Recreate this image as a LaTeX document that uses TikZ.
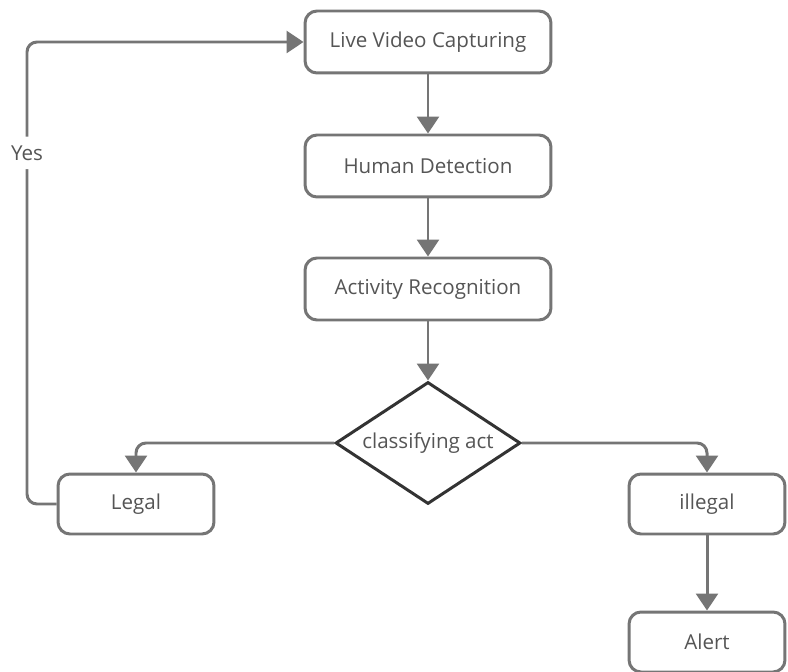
\documentclass[tikz,border=0pt]{standalone}
\usepackage{fontspec}
\setmainfont{Open Sans}
\usetikzlibrary{arrows.meta,shapes.geometric}
\definecolor{LineClr}{HTML}{757575}
\definecolor{DiamClr}{HTML}{333333}
\definecolor{TextClr}{HTML}{555555}

\begin{document}
\begin{tikzpicture}[x=0.02cm,y=-0.02cm,
  box/.style={draw=LineClr,line width=1.7pt,rounded corners=0.24cm,fill=white,
    text=TextClr,font=\fontsize{11.7}{14}\selectfont,inner sep=0pt,
    minimum width=4.92cm,minimum height=1.24cm},
  smallbox/.style={box,minimum width=3.12cm,minimum height=1.2cm},
  decision/.style={draw=DiamClr,line width=1.7pt,diamond,aspect=1.5,fill=white,
    text=TextClr,font=\fontsize{11.7}{14}\selectfont,inner sep=0pt,
    minimum width=3.7cm,minimum height=2.44cm},
  conn/.style={draw=LineClr,line width=1.7pt,rounded corners=0.2cm,
    -{Triangle[width=0.44cm,length=0.34cm]}}]
\useasboundingbox (0,0) rectangle (788,672);

\node[box] (live) at (428,42) {Live Video Capturing};
\node[box] (human) at (428,166) {Human Detection};
\node[box] (activity) at (428,289) {Activity Recognition};
\node[decision] (classify) at (428,443) {classifying act};
\node[smallbox] (legal) at (136,504) {Legal};
\node[smallbox] (illegal) at (707,504) {illegal};
\node[smallbox] (alert) at (707,642) {Alert};

\coordinate (loop) at (27,42);

\draw[conn] (live) -- (human);
\draw[conn] (human) -- (activity);
\draw[conn] (activity) -- (classify);
\draw[conn] (classify.west) -| (legal.north);
\draw[conn] (classify.east) -| (illegal.north);
\draw[conn] (illegal) -- (alert);
\draw[conn] (legal.west) -| node[pos=0.88,fill=white,text=TextClr,inner sep=5pt,
    font=\fontsize{11.7}{14}\selectfont] {Yes} (loop) -- (live.west);

\end{tikzpicture}
\end{document}
